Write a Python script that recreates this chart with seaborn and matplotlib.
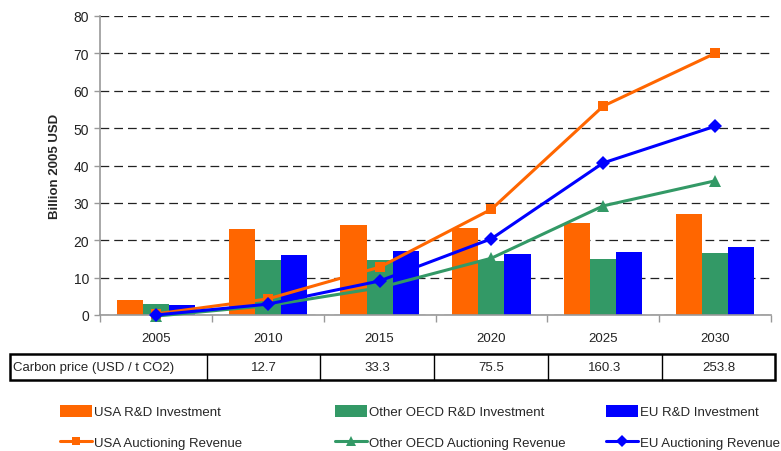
import numpy as np
import pandas as pd
import matplotlib
matplotlib.use("Agg")
import matplotlib.pyplot as plt
import seaborn as sns
from matplotlib.patches import Patch, Rectangle
from matplotlib.lines import Line2D

sns.set_theme(style="white")
plt.rcParams['font.family'] = ['Liberation Sans', 'DejaVu Sans']

years = ['2005', '2010', '2015', '2020', '2025', '2030']
usa_rd = [4.1, 23.0, 24.0, 23.3, 24.6, 27.0]
oecd_rd = [3.0, 14.8, 14.8, 14.4, 15.0, 16.6]
eu_rd = [2.7, 16.0, 17.2, 16.3, 16.8, 18.2]
usa_rev = [0.3, 4.3, 12.8, 28.3, 55.9, 70.0]
oecd_rev = [-0.3, 2.5, 7.3, 15.2, 29.2, 35.9]
eu_rev = [0.0, 2.9, 9.1, 20.4, 40.7, 50.5]
carbon_label = 'Carbon price (USD / t CO2)'
carbon_price = ['12.7', '33.3', '75.5', '160.3', '253.8']

bar_names = ['USA R&D Investment', 'Other OECD R&D Investment', 'EU R&D Investment']
line_names = ['USA Auctioning Revenue', 'Other OECD Auctioning Revenue', 'EU Auctioning Revenue']
colors = ['#FF6600', '#339966', '#0000FF']
markers = ['s', '^', 'D']

W, H = 781, 452
fig = plt.figure(figsize=(W / 100, H / 100), dpi=100)
ax = fig.add_axes([100 / W, 1 - 316 / H, 671 / W, 299 / H])

df = pd.DataFrame({
    'year': years * 3,
    'value': usa_rd + oecd_rd + eu_rd,
    'series': [bar_names[0]] * 6 + [bar_names[1]] * 6 + [bar_names[2]] * 6,
})
sns.barplot(data=df, x='year', y='value', hue='series', hue_order=bar_names,
            palette=colors, width=0.7, saturation=1, legend=False, ax=ax,
            zorder=2, linewidth=0)

pos = np.arange(len(years))
msizes = [7, 8, 7]
for vals, c, m, ms in zip([usa_rev, oecd_rev, eu_rev], colors, markers, msizes):
    sns.lineplot(x=pos, y=vals, color=c, marker=m, markersize=ms,
                 markeredgewidth=0, linewidth=2.2, ax=ax, zorder=3, clip_on=False)

ax.set_ylim(0, 80)
ax.set_xlim(-0.5, 5.5)
ax.set_yticks(np.arange(0, 81, 10))
ax.set_xticks(pos)
ax.set_xticklabels(years)
ax.set_xticks(np.arange(-0.5, 6, 1), minor=True)
ax.tick_params(axis='x', which='major', length=0, pad=12, labelsize=9.5, labelcolor='#222222')
ax.tick_params(axis='x', which='minor', length=5, width=1, color='#999999', direction='out', bottom=True)
ax.tick_params(axis='y', length=4, width=1, color='#999999', direction='out', left=True,
               labelsize=10, labelcolor='#222222', pad=4)
ax.yaxis.grid(True, linestyle=(0, (7, 4)), color='#222222', linewidth=0.9)
ax.xaxis.grid(False)
ax.set_axisbelow(True)
for s in ['top', 'right']:
    ax.spines[s].set_visible(False)
for s in ['left', 'bottom']:
    ax.spines[s].set_color('#999999')
    ax.spines[s].set_linewidth(1.2)
ax.set_xlabel('')
ax.set_ylabel('Billion 2005 USD', fontsize=9.5, fontweight='bold', labelpad=9)

# carbon price table
tab = fig.add_axes([10 / W, 1 - 381 / H, 765 / W, 26 / H])
tab.set_xlim(10, 775)
tab.set_ylim(0, 1)
tab.axis('off')
tab.add_patch(Rectangle((10, 0), 765, 1, fill=False, edgecolor='black', linewidth=1.8, clip_on=False))
bounds = [10, 207, 320, 434, 548, 662, 775]
for b in bounds[1:-1]:
    tab.plot([b, b], [0, 1], color='black', linewidth=1.0, clip_on=False)
tab.text(13, 0.5, carbon_label, ha='left', va='center', fontsize=9.5)
for i, v in enumerate(carbon_price):
    tab.text((bounds[i + 1] + bounds[i + 2]) / 2, 0.5, v, ha='center', va='center', fontsize=9.5)

# legends
col_x = [60, 335, 606]
for i in range(3):
    handles = [Patch(facecolor=colors[i], edgecolor='none'),
               Line2D([0], [0], color=colors[i], marker=markers[i], markersize=msizes[i] - 1,
                      markeredgewidth=0, linewidth=2.2)]
    fig.legend(handles=handles, labels=[bar_names[i], line_names[i]],
               loc='upper left', bbox_to_anchor=(col_x[i] / W, 1 - 406 / H),
               frameon=False, fontsize=9.5, handlelength=2.4, handleheight=1.0,
               handletextpad=0.2, labelspacing=1.32, borderaxespad=0, borderpad=0)

fig.savefig('out.png', dpi=100)
